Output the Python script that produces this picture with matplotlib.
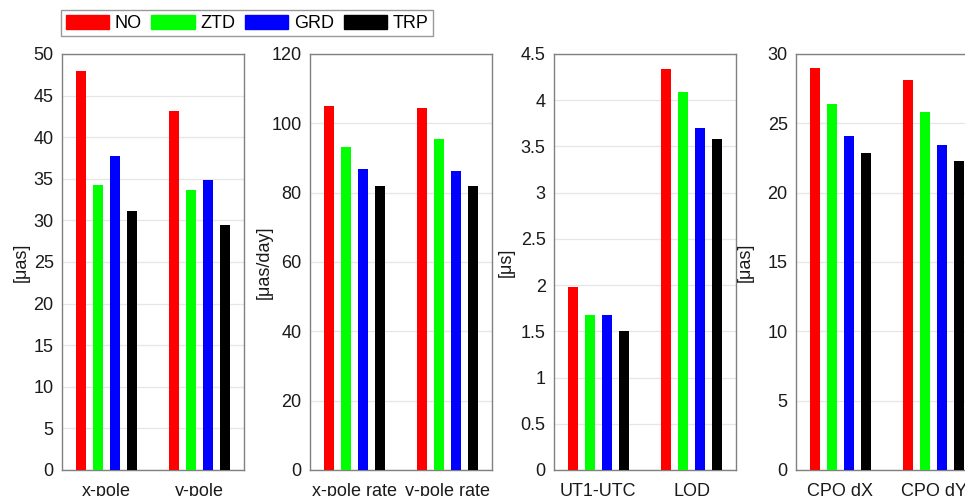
import matplotlib
matplotlib.use("Agg")
import matplotlib.pyplot as plt
from matplotlib.patches import Patch
import numpy as np

plt.rcParams['font.family'] = ['Liberation Sans', 'DejaVu Sans']

solutions = ["NO", "ZTD", "GRD", "TRP"]
colors = ["#ff0000", "#00ff00", "#0000ff", "#000000"]

pole_labels = ["x-pole", "y-pole"]
pole_values = [[47.9, 43.2], [34.2, 33.7], [37.7, 34.9], [31.1, 29.4]]

rate_labels = ["x-pole rate", "y-pole rate"]
rate_values = [[104.9, 104.5], [93.1, 95.5], [86.9, 86.3], [81.8, 81.9]]

ut_labels = ["UT1-UTC", "LOD"]
ut_values = [[1.98, 4.34], [1.68, 4.09], [1.68, 3.70], [1.50, 3.58]]

cpo_labels = ["CPO dX", "CPO dY"]
cpo_values = [[28.96, 28.14], [26.39, 25.80], [24.10, 23.41], [22.83, 22.28]]

panels = [
    (pole_labels, pole_values, "[μas]", 50, np.arange(0, 51, 5)),
    (rate_labels, rate_values, "[μas/day]", 120, np.arange(0, 121, 20)),
    (ut_labels, ut_values, "[μs]", 4.5, np.arange(0, 4.51, 0.5)),
    (cpo_labels, cpo_values, "[μas]", 30, np.arange(0, 31, 5)),
]

W, H = 965, 496
fig = plt.figure(figsize=(W / 100, H / 100), dpi=100)

lefts = [62, 310, 554, 796]
label_pads = [3, -1, 4.5, 10]
ax_w = 182
ax_bottom, ax_top = 470, 54

step = 0.181
bw = 0.107
fs = 13

for left, pad, (labels, values, ylabel, ymax, ticks) in zip(lefts, label_pads, panels):
    ax = fig.add_axes([left / W, (H - ax_bottom) / H, ax_w / W, (ax_bottom - ax_top) / H])
    x = np.arange(1, len(labels) + 1)
    for i, (vals, c) in enumerate(zip(values, colors)):
        ax.bar(x + (i - 1.5) * step, vals, width=bw, color=c, zorder=3)
    ax.set_xlim(0.53, 2.47)
    ax.set_ylim(0, ymax)
    ax.set_yticks(ticks)
    ax.set_yticklabels([f"{t:g}" for t in ticks])
    ax.set_xticks(x)
    ax.set_xticklabels(labels)
    ax.tick_params(length=0, labelsize=fs, pad=6, colors="#1a1a1a")
    ax.tick_params(axis="x", pad=9)
    ax.grid(axis="y", color="#e6e6e6", lw=0.9, zorder=0)
    for s in ax.spines.values():
        s.set_color("#808080")
        s.set_linewidth(1.0)
    ax.set_ylabel(ylabel, fontsize=fs, color="#1a1a1a", labelpad=pad)

handles = [Patch(facecolor=c, edgecolor=c) for c in colors]
leg = fig.legend(handles, solutions, ncol=4, loc="upper left",
                 bbox_to_anchor=(61 / W, 1 - 10 / H), fontsize=fs,
                 frameon=True, fancybox=False, edgecolor="#808080",
                 handlelength=2.4, handleheight=0.85, handletextpad=0.3,
                 columnspacing=0.55, borderpad=0.25, borderaxespad=0)
leg.get_frame().set_linewidth(1.0)

fig.savefig("out.png", dpi=100)
